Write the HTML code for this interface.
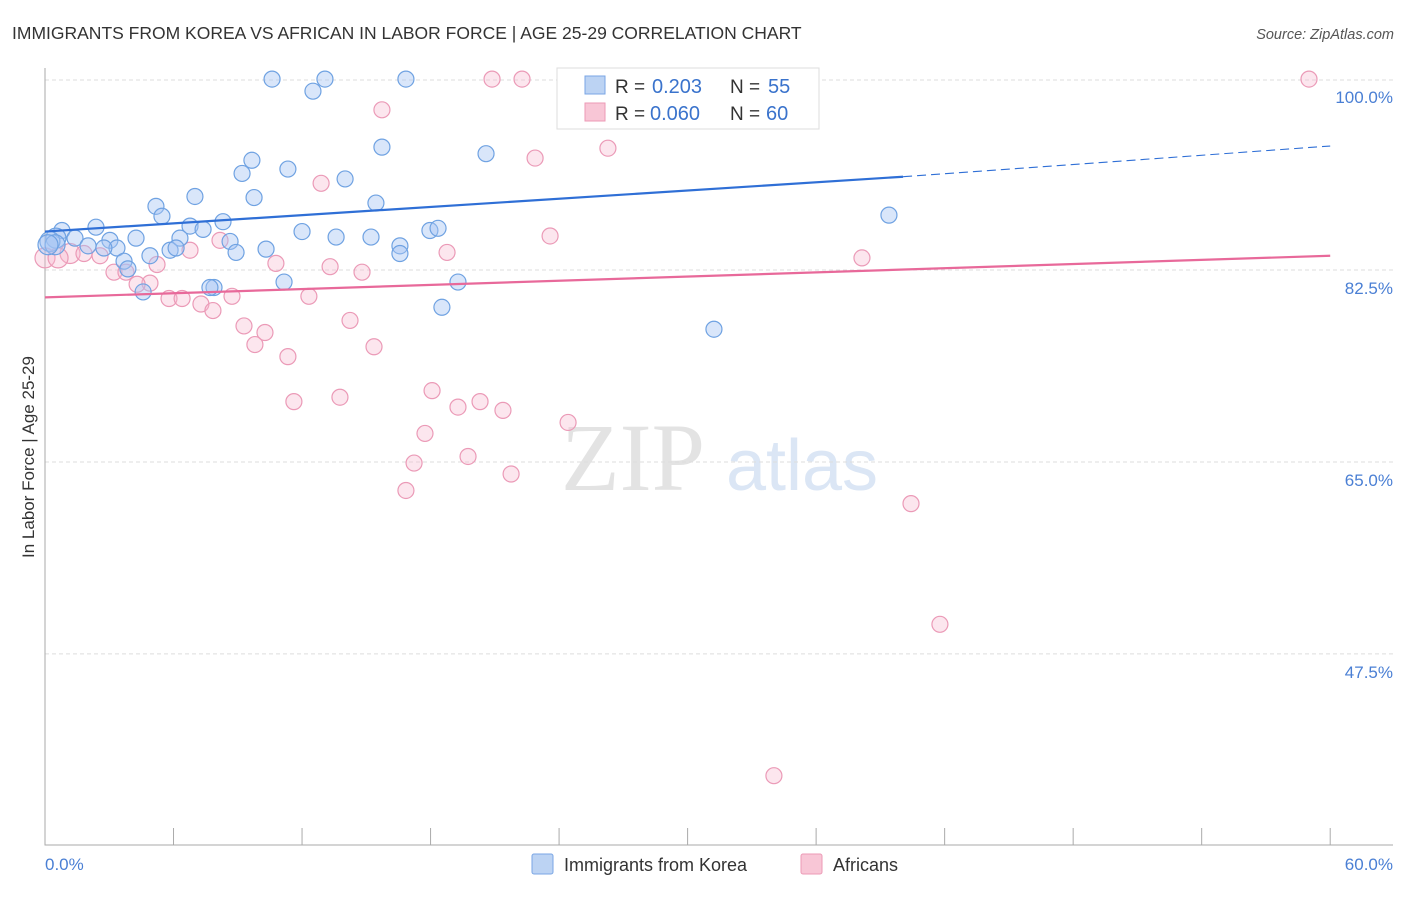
<!DOCTYPE html>
<html><head><meta charset="utf-8"><style>
body{margin:0;background:#fff;font-family:"Liberation Sans",sans-serif;}
</style></head><body>
<svg width="1406" height="892" xmlns="http://www.w3.org/2000/svg">
<text x="12" y="39" font-size="17.5" fill="#333">IMMIGRANTS FROM KOREA VS AFRICAN IN LABOR FORCE | AGE 25-29 CORRELATION CHART</text>
<text x="1394" y="39" font-size="14.5" fill="#555" font-style="italic" text-anchor="end">Source: ZipAtlas.com</text>
<g>
<text x="633" y="490" font-size="96" fill="#e3e3e3" font-family="Liberation Serif,serif" text-anchor="middle">ZIP</text>
<text x="802" y="490" font-size="72" fill="#dbe6f5" text-anchor="middle">atlas</text>
</g>
<g id="grid"></g>
<g id="axes"></g>
<g id="marks"></g>
<text x="34" y="457" font-size="17" fill="#333" text-anchor="middle" transform="rotate(-90 34 457)">In Labor Force | Age 25-29</text>
<text x="45" y="870" font-size="17" fill="#4a7fd4">0.0%</text>
<text x="1393" y="870" font-size="17" fill="#4a7fd4" text-anchor="end">60.0%</text>
<g>
<rect x="557" y="68" width="262" height="61" fill="#fff" stroke="#ddd"/>
<rect x="585" y="76" width="20" height="18" fill="#bcd3f3" stroke="#7aa6e4"/>
<rect x="585" y="103" width="20" height="18" fill="#f8c6d6" stroke="#ec9ab6"/>
<text x="615" y="93" font-size="19" fill="#333">R =</text>
<text x="652" y="93" font-size="20" fill="#3a73cc">0.203</text>
<text x="730" y="93" font-size="19" fill="#333">N =</text>
<text x="768" y="93" font-size="20" fill="#3a73cc">55</text>
<text x="615" y="120" font-size="19" fill="#333">R =</text>
<text x="650" y="120" font-size="20" fill="#3a73cc">0.060</text>
<text x="730" y="120" font-size="19" fill="#333">N =</text>
<text x="766" y="120" font-size="20" fill="#3a73cc">60</text>
</g>
<g>
<rect x="532" y="854" width="21" height="20" fill="#bcd3f3" stroke="#7aa6e4" rx="2"/>
<text x="564" y="871" font-size="18" fill="#333">Immigrants from Korea</text>
<rect x="801" y="854" width="21" height="20" fill="#f8c6d6" stroke="#ec9ab6" rx="2"/>
<text x="833" y="871" font-size="18" fill="#333">Africans</text>
</g>
</svg>
<script>
const yTicks=[100,82.5,65,47.5];
const yTickLabels=["100.0%","82.5%","65.0%","47.5%"];
const koreaX=[10.60,12.51,13.07,16.85,25.77,9.66,9.20,11.34,14.01,15.73,20.59,7.00,9.76,5.18,5.46,15.45,2.38,0.79,8.31,6.77,7.38,0.51,1.40,3.03,4.25,6.30,8.64,12.00,13.59,15.22,17.97,18.35,16.57,16.57,0.23,2.01,3.36,5.84,6.12,8.92,10.32,4.90,3.69,3.87,7.89,7.70,11.16,4.58,19.28,18.53,31.23,39.40,0.47,2.75,0.14];
const koreaY=[99.9,98.8,99.9,99.9,99.7,92.5,91.3,91.7,90.8,93.7,93.1,89.2,89.1,88.3,87.4,88.6,86.4,86.1,86.9,86.5,86.2,85.4,85.4,85.2,85.4,85.4,85.1,86.0,85.5,85.5,86.1,86.3,84.7,84.0,85.1,84.7,84.5,84.3,84.5,84.1,84.4,83.8,83.3,82.6,80.9,80.9,81.4,80.5,81.4,79.1,77.1,87.5,84.8,84.5,84.8];
const africanX=[20.87,22.27,31.42,35.25,59.01,15.73,26.28,22.88,12.89,23.58,8.17,6.77,18.77,1.17,1.82,2.57,0.00,0.61,10.78,13.31,14.80,5.23,3.22,3.78,4.90,4.30,12.32,8.73,5.79,6.40,7.28,7.84,14.24,9.29,10.27,9.80,15.36,11.34,18.07,13.77,11.62,20.31,19.28,21.38,24.42,17.74,17.23,19.75,21.76,16.85,40.43,41.78,34.03,38.14];
const africanY=[99.9,99.9,99.9,99.9,99.9,97.1,93.6,92.7,90.4,85.6,85.2,84.3,84.1,84.0,84.0,83.8,83.6,83.6,83.1,82.8,82.3,83.0,82.3,82.3,81.3,81.2,80.1,80.1,79.9,79.9,79.4,78.8,77.9,77.4,76.8,75.7,75.5,74.6,71.5,70.9,70.5,70.5,70.0,69.7,68.6,67.6,64.9,65.5,63.9,62.4,61.2,50.2,36.4,83.6];
const koreaTrend=[[0,86.0],[40.06,91.0]];
const koreaTrendExt=[[40.06,91.0],[60,93.8]];
const africanTrend=[[0,80.0],[60,83.8]];

const NS="http://www.w3.org/2000/svg";
const xs=v=>45+v*21.42;
const ys=v=>78+(100-v)*10.97;
function mk(parent,tag,attrs){const e=document.createElementNS(NS,tag);for(const k in attrs)e.setAttribute(k,attrs[k]);document.getElementById(parent).appendChild(e);return e;}
yTicks.forEach((t,i)=>{
 const l=mk('grid','line',{x1:45,x2:1393,y1:ys(t)+(i==0?2:0),y2:ys(t)+(i==0?2:0),stroke:'#ddd','stroke-dasharray':'4 3'});
 
 
 const tx=mk('grid','text',{x:1393,y:ys(t)+(i==0?25:24),'font-size':17,fill:'#4a7fd4','text-anchor':'end'});
 tx.textContent=yTickLabels[i];
 
 
});
const ax=mk('axes','path',{d:'M45,68V845H1393',stroke:'#aaa',fill:'none'});


for(let i=1;i<=10;i++){
 const t=mk('axes','line',{x1:xs(i*6),x2:xs(i*6),y1:828,y2:845,stroke:'#aaa'});
 
 
}
function dots(X,Y,stroke,fill,name){
 X.forEach((x,i)=>{
  const big=(x<1.3&&Y[i]>83&&Y[i]<86);
  const c=mk('marks','circle',{cx:xs(x),cy:ys(Y[i]),r:big?10:8,fill:fill,stroke:stroke,'stroke-width':1.2});
  
  
 });
}
dots(africanX,africanY,'#eb9ab7','rgba(246,184,205,0.35)','african-point');
dots(koreaX,koreaY,'#6f a2e2'.replace(' ',''),'rgba(165,196,242,0.42)','korea-point');
function line(p,color,dash,name){
 const l=mk('marks','line',{x1:xs(p[0][0]),y1:ys(p[0][1]),x2:xs(p[1][0]),y2:ys(p[1][1]),stroke:color,'stroke-width':dash?1.1:2.2});
 if(dash)l.setAttribute('stroke-dasharray','9 5');
 
 
}
line(koreaTrend,'#2f6fd6',false,'korea-trendline');
line(koreaTrendExt,'#2f6fd6',true,'korea-trendline-extension');
line(africanTrend,'#e8699a',false,'african-trendline');
</script>
</body></html>
